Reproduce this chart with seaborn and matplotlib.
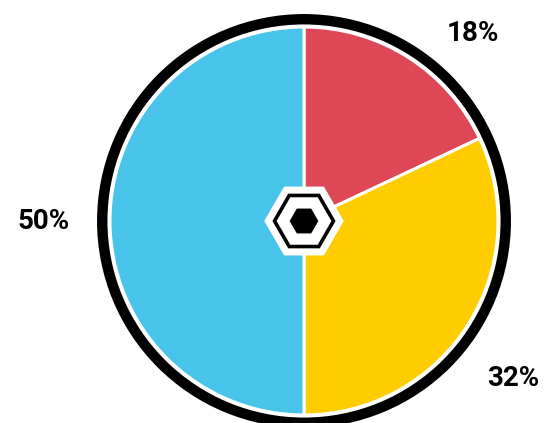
import numpy as np
import matplotlib
matplotlib.use("Agg")
import matplotlib.pyplot as plt
from matplotlib.patches import RegularPolygon, Circle
import seaborn as sns

# Share of each segment, clockwise from 12 o'clock
segments = ["Red", "Yellow", "Blue"]
shares = [18, 32, 50]
colors = ["#DD4756", "#FFCC00", "#48C3EA"]

# Label placement per segment: (angle in degrees, distance in pie radii)
label_layout = [(48, 1.30), (-37, 1.35), (180, 1.34)]

sns.set_theme(style="white")
plt.rcParams["font.family"] = ["Roboto", "DejaVu Sans"]

fig = plt.figure(figsize=(5.55, 4.23), dpi=100)
ax = fig.add_axes([0, 0, 1, 1])

wedges, _ = ax.pie(
    shares,
    colors=colors,
    startangle=90,
    counterclock=False,
    radius=1.0,
    wedgeprops=dict(edgecolor="white", linewidth=2.2),
)

# Thick black rim around the pie
ax.add_patch(Circle((0, 0), 1.04, fill=False, edgecolor="black", linewidth=7.5, zorder=3))

# Hexagon badge at the centre
ax.add_patch(RegularPolygon((0, 0), 6, radius=0.205, orientation=np.pi / 6,
                            facecolor="white", edgecolor="none", zorder=4))
ax.add_patch(RegularPolygon((0, 0), 6, radius=0.152, orientation=np.pi / 6,
                            facecolor="white", edgecolor="black", linewidth=2.6, zorder=5))
ax.add_patch(RegularPolygon((0, 0), 6, radius=0.074, orientation=np.pi / 6,
                            facecolor="black", edgecolor="none", zorder=6))

for share, (ang, dist) in zip(shares, label_layout):
    a = np.deg2rad(ang)
    ax.text(dist * np.cos(a), dist * np.sin(a), f"{share}%",
            ha="center", va="center", fontsize=20, fontweight="bold", color="black")

R = 194.0
cx, cy = 304.0, 221.0
ax.set_xlim(-cx / R, (555 - cx) / R)
ax.set_ylim(-(423 - cy) / R, cy / R)
ax.set_aspect("equal")
ax.axis("off")

fig.savefig("out.png", dpi=100, facecolor="white")
